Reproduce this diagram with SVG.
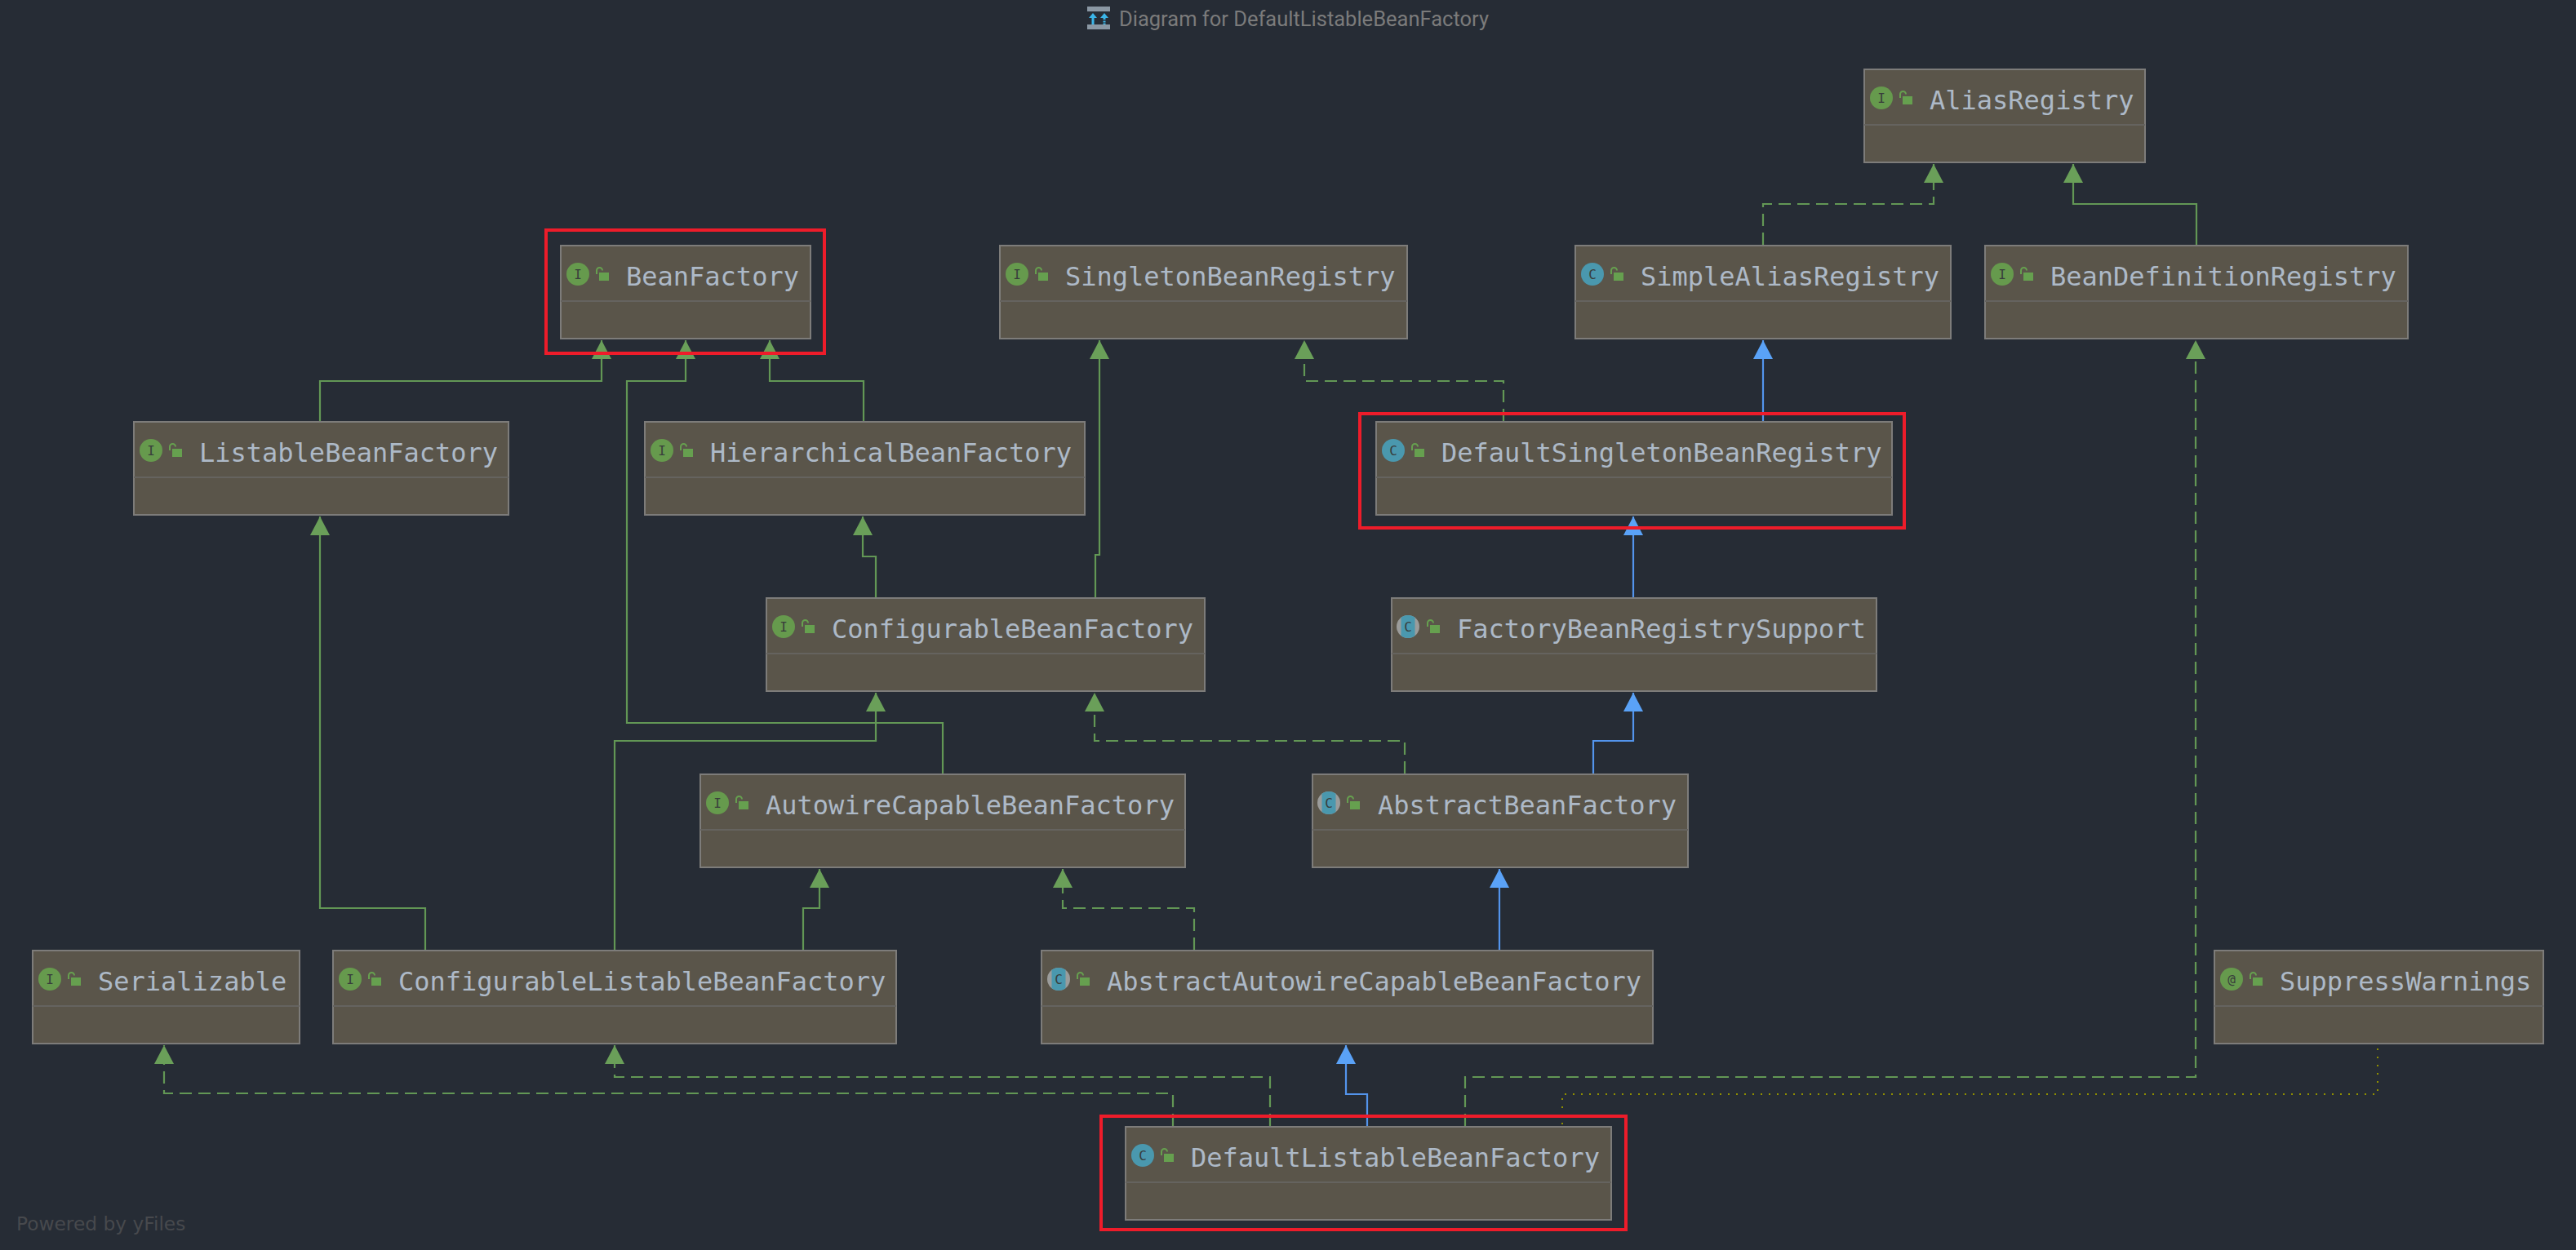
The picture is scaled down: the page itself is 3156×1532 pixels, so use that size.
<svg xmlns="http://www.w3.org/2000/svg" xmlns:xlink="http://www.w3.org/1999/xlink" width="3156" height="1532" viewBox="0 0 3156 1532">
<style>
.box{fill:#5a554a;stroke:#7d7c7a;stroke-width:2}
.div{stroke:#65635f;stroke-width:2}
.name{font-family:"DejaVu Sans Mono","Liberation Mono",monospace;font-size:32px;fill:#adb9c7}
.ico{font-family:"DejaVu Sans Mono","Liberation Mono",monospace;font-size:16px;text-anchor:middle;fill:#383d3c}
.c{fill:none;stroke-width:2.200}
.g{stroke:#629755}
.b{stroke:#5394ec}
.d{stroke-dasharray:15 8}
.y{fill:none;stroke:#8f8f00;stroke-width:2;stroke-dasharray:2 8}
.red{fill:none;stroke:#ee1c2a;stroke-width:4}
</style>
<defs>
<marker id="ag" markerUnits="userSpaceOnUse" markerWidth="24" markerHeight="24" refX="23" refY="12" orient="auto"><path d="M0 0L23 12L0 24Z" fill="#6a9f59"/></marker>
<marker id="ab" markerUnits="userSpaceOnUse" markerWidth="24" markerHeight="24" refX="23" refY="12" orient="auto"><path d="M0 0L23 12L0 24Z" fill="#5aa2f7"/></marker>
<clipPath id="cc"><circle cx="0" cy="0" r="14"/></clipPath>
<g id="lock"><rect x="-4" y="-2" width="12" height="10" fill="#66a04f"/><path d="M-7 0V-4.500a3.500 3.500 0 0 1 7 0" fill="none" stroke="#66a04f" stroke-width="2"/></g>
<circle id="ci" r="14" fill="#669a4d"/>
<circle id="cl" r="14" fill="#4a98ae"/>
<g id="ab-c"><circle r="14" fill="#9b9c9b"/><rect x="-8.500" y="-14" width="17" height="28" fill="#4a98ae" clip-path="url(#cc)"/></g>
</defs>
<rect width="3156" height="1532" fill="#262c35"/>
<g id="title">
<rect x="1332" y="8" width="28" height="6" fill="#8b98a4"/><rect x="1332" y="30" width="28" height="6" fill="#8b98a4"/>
<path d="M1339 16l-5 6h3.500v8h3v-8h3.500z" fill="#3bb5e8"/>
<path d="M1353 16l-5 6h3.500v2h3v-2h3.500zM1351.500 25.500h3v2h-3zM1351.500 28.500h3v1.500h-3z" fill="#3bb5e8"/>
<text x="1371" y="32" font-family="Roboto,'Liberation Sans',sans-serif" font-size="25.500" fill="#7b7b7b">Diagram for DefaultListableBeanFactory</text>
</g>
<g id="connectors">
<path class="c g d" marker-end="url(#ag)" d="M2160 300V250H2369V201"/>
<path class="c g" marker-end="url(#ag)" d="M2691 300V250H2540V201"/>
<path class="c b" marker-end="url(#ab)" d="M2160 516V417"/>
<path class="c g d" marker-end="url(#ag)" d="M1842 516V467H1598V417"/>
<path class="c g" marker-end="url(#ag)" d="M1342 732V680H1347V417"/>
<path class="c g" marker-end="url(#ag)" d="M392 516V467H737V417"/>
<path class="c g" marker-end="url(#ag)" d="M1155 948V886H768V467H840V417"/>
<path class="c g" marker-end="url(#ag)" d="M1058 516V467H943V417"/>
<path class="c g" marker-end="url(#ag)" d="M1073 732V682H1057V633"/>
<path class="c g" marker-end="url(#ag)" d="M521 1164V1113H392V633"/>
<path class="c b" marker-end="url(#ab)" d="M2001 732V633"/>
<path class="c g d" marker-end="url(#ag)" d="M1721 948V908H1341V849"/>
<path class="c b" marker-end="url(#ab)" d="M1952 948V908H2001V849"/>
<path class="c g" marker-end="url(#ag)" d="M753 1164V908H1073V849"/>
<path class="c g" marker-end="url(#ag)" d="M984 1164V1113H1004V1065"/>
<path class="c g d" marker-end="url(#ag)" d="M1463 1164V1113H1302V1065"/>
<path class="c b" marker-end="url(#ab)" d="M1837 1164V1065"/>
<path class="c g d" marker-end="url(#ag)" d="M1556 1380V1320H753V1281"/>
<path class="c g d" marker-end="url(#ag)" d="M1437 1380V1340H201V1281"/>
<path class="c b" marker-end="url(#ab)" d="M1675 1380V1341H1649V1281"/>
<path class="c g d" marker-end="url(#ag)" d="M1795 1380V1320H2690V417"/>
<path class="y" d="M2913 1285V1341H1914V1380"/>
</g>
<g id="n-AliasRegistry"><rect class="box" x="2284" y="85" width="344" height="114"/><path class="div" d="M2284 153H2628"/><use href="#ci" x="2305" y="120"/><text class="ico" x="2305" y="126">I</text><use href="#lock" x="2335" y="120"/><text class="name" x="2364" y="134">AliasRegistry</text></g>
<g id="n-BeanFactory"><rect class="box" x="687" y="301" width="306" height="114"/><path class="div" d="M687 369H993"/><use href="#ci" x="708" y="336"/><text class="ico" x="708" y="342">I</text><use href="#lock" x="738" y="336"/><text class="name" x="767" y="350">BeanFactory</text></g>
<g id="n-SingletonBeanRegistry"><rect class="box" x="1225" y="301" width="499" height="114"/><path class="div" d="M1225 369H1724"/><use href="#ci" x="1246" y="336"/><text class="ico" x="1246" y="342">I</text><use href="#lock" x="1276" y="336"/><text class="name" x="1305" y="350">SingletonBeanRegistry</text></g>
<g id="n-SimpleAliasRegistry"><rect class="box" x="1930" y="301" width="460" height="114"/><path class="div" d="M1930 369H2390"/><use href="#cl" x="1951" y="336"/><text class="ico" x="1951" y="342">C</text><use href="#lock" x="1981" y="336"/><text class="name" x="2010" y="350">SimpleAliasRegistry</text></g>
<g id="n-BeanDefinitionRegistry"><rect class="box" x="2432" y="301" width="518" height="114"/><path class="div" d="M2432 369H2950"/><use href="#ci" x="2453" y="336"/><text class="ico" x="2453" y="342">I</text><use href="#lock" x="2483" y="336"/><text class="name" x="2512" y="350">BeanDefinitionRegistry</text></g>
<g id="n-ListableBeanFactory"><rect class="box" x="164" y="517" width="459" height="114"/><path class="div" d="M164 585H623"/><use href="#ci" x="185" y="552"/><text class="ico" x="185" y="558">I</text><use href="#lock" x="215" y="552"/><text class="name" x="244" y="566">ListableBeanFactory</text></g>
<g id="n-HierarchicalBeanFactory"><rect class="box" x="790" y="517" width="539" height="114"/><path class="div" d="M790 585H1329"/><use href="#ci" x="811" y="552"/><text class="ico" x="811" y="558">I</text><use href="#lock" x="841" y="552"/><text class="name" x="870" y="566">HierarchicalBeanFactory</text></g>
<g id="n-DefaultSingletonBeanRegistry"><rect class="box" x="1686" y="517" width="632" height="114"/><path class="div" d="M1686 585H2318"/><use href="#cl" x="1707" y="552"/><text class="ico" x="1707" y="558">C</text><use href="#lock" x="1737" y="552"/><text class="name" x="1766" y="566">DefaultSingletonBeanRegistry</text></g>
<g id="n-ConfigurableBeanFactory"><rect class="box" x="939" y="733" width="537" height="114"/><path class="div" d="M939 801H1476"/><use href="#ci" x="960" y="768"/><text class="ico" x="960" y="774">I</text><use href="#lock" x="990" y="768"/><text class="name" x="1019" y="782">ConfigurableBeanFactory</text></g>
<g id="n-FactoryBeanRegistrySupport"><rect class="box" x="1705" y="733" width="594" height="114"/><path class="div" d="M1705 801H2299"/><use href="#ab-c" x="1725" y="768"/><text class="ico" x="1725" y="774">C</text><use href="#lock" x="1756" y="768"/><text class="name" x="1785" y="782">FactoryBeanRegistrySupport</text></g>
<g id="n-AutowireCapableBeanFactory"><rect class="box" x="858" y="949" width="594" height="114"/><path class="div" d="M858 1017H1452"/><use href="#ci" x="879" y="984"/><text class="ico" x="879" y="990">I</text><use href="#lock" x="909" y="984"/><text class="name" x="938" y="998">AutowireCapableBeanFactory</text></g>
<g id="n-AbstractBeanFactory"><rect class="box" x="1608" y="949" width="460" height="114"/><path class="div" d="M1608 1017H2068"/><use href="#ab-c" x="1628" y="984"/><text class="ico" x="1628" y="990">C</text><use href="#lock" x="1658" y="984"/><text class="name" x="1688" y="998">AbstractBeanFactory</text></g>
<g id="n-Serializable"><rect class="box" x="40" y="1165" width="327" height="114"/><path class="div" d="M40 1233H367"/><use href="#ci" x="61" y="1200"/><text class="ico" x="61" y="1206">I</text><use href="#lock" x="91" y="1200"/><text class="name" x="120" y="1214">Serializable</text></g>
<g id="n-ConfigurableListableBeanFactory"><rect class="box" x="408" y="1165" width="690" height="114"/><path class="div" d="M408 1233H1098"/><use href="#ci" x="429" y="1200"/><text class="ico" x="429" y="1206">I</text><use href="#lock" x="459" y="1200"/><text class="name" x="488" y="1214">ConfigurableListableBeanFactory</text></g>
<g id="n-AbstractAutowireCapableBeanFactory"><rect class="box" x="1276" y="1165" width="749" height="114"/><path class="div" d="M1276 1233H2025"/><use href="#ab-c" x="1297" y="1200"/><text class="ico" x="1297" y="1206">C</text><use href="#lock" x="1327" y="1200"/><text class="name" x="1356" y="1214">AbstractAutowireCapableBeanFactory</text></g>
<g id="n-SuppressWarnings"><rect class="box" x="2713" y="1165" width="403" height="114"/><path class="div" d="M2713 1233H3116"/><use href="#ci" x="2734" y="1200"/><text class="ico" x="2734" y="1206">@</text><use href="#lock" x="2764" y="1200"/><text class="name" x="2793" y="1214">SuppressWarnings</text></g>
<g id="n-DefaultListableBeanFactory"><rect class="box" x="1379" y="1381" width="595" height="114"/><path class="div" d="M1379 1449H1974"/><use href="#cl" x="1400" y="1416"/><text class="ico" x="1400" y="1422">C</text><use href="#lock" x="1430" y="1416"/><text class="name" x="1459" y="1430">DefaultListableBeanFactory</text></g>
<g id="highlights">
<rect class="red" x="669" y="282" width="341" height="151"/>
<rect class="red" x="1666" y="507" width="667" height="140"/>
<rect class="red" x="1349" y="1368" width="643" height="139"/>
</g>
<text id="watermark" x="20" y="1508" font-family="'DejaVu Sans',sans-serif" font-size="23.300" fill="#47494d">Powered by yFiles</text>
</svg>
